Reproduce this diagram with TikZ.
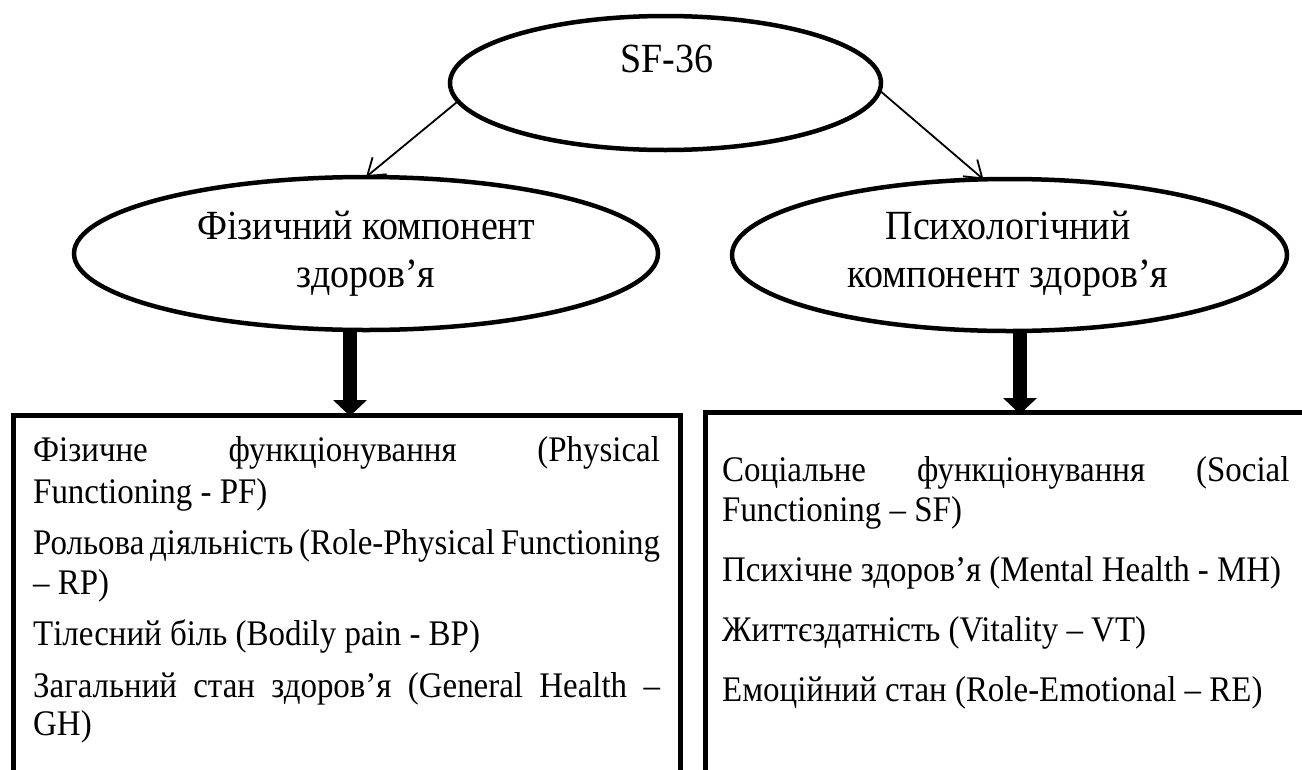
\documentclass[tikz,border=0pt]{standalone}
\usepackage{fontspec}
\usepackage{graphicx}
\setmainfont{Liberation Serif}
\usetikzlibrary{shapes.geometric,arrows.meta}
\newcommand\bodyfont{\fontsize{36}{40}\selectfont}
\newcommand\ellfont{\fontsize{41.5}{48}\selectfont}
\newcommand\sqz[1]{\scalebox{0.915}[1]{#1}}
\begin{document}
\begin{tikzpicture}[x=1pt,y=-1pt,
  ell/.style={ellipse, draw, line width=4.5pt, inner sep=0pt, outer sep=0pt},
  thinarrow/.style={-{Straight Barb[length=16pt,width=22pt,line width=1.8pt]}, line width=1.8pt},
  bigarrow/.style={-{Triangle[length=16pt,width=34pt,line width=0pt]}, line width=14pt},
  box/.style={draw, line width=5pt, inner sep=0pt, outer sep=0pt, anchor=north west},
  txt/.style={anchor=base west, inner sep=0pt, font=\bodyfont},
  etxt/.style={anchor=base, inner sep=0pt, font=\ellfont}]
\useasboundingbox (0,0) rectangle (1302,769);
\clip (0,0) rectangle (1302,769);
\fill[white] (0,0) rectangle (1302,769);

% ellipses
\node[ell, minimum width=431pt, minimum height=134pt] (sf) at (665.5,83) {};
\node[etxt] (sft) at (667,72) {\sqz{SF-36}};
\node[ell, minimum width=584pt, minimum height=153pt] (lf) at (366,253.5) {};
\node[etxt] (lf1) at (366,239) {\sqz{Фізичний компонент}};
\node[etxt] (lf2) at (366,287) {\sqz{здоров’я}};
\node[ell, minimum width=555pt, minimum height=152pt] (rt) at (1009.5,255) {};
\node[etxt] (rt1) at (1008,239) {\sqz{Психологічний}};
\node[etxt] (rt2) at (1008,287) {\sqz{компонент здоров’я}};

% boxes
\node[box, minimum width=666.5pt, minimum height=420pt] (lbox) at (13.5,415) {};
\node[box, minimum width=700pt, minimum height=420pt] (rbox) at (705,412) {};

% connectors
\draw[thinarrow] (sf.185) -- (lf.north);
\draw[thinarrow] (sf.-2) -- (rt.109);
\coordinate (la) at (350,416);
\coordinate (ra) at (1020,414);
\draw[bigarrow] (lf.south -| la) -- (la);
\draw[bigarrow] (rt.south -| ra) -- (ra);

% left box text
\node[txt] (a1) at (33,461) {\sqz{\makebox[685pt][s]{Фізичне функціонування (Physical}}};
\node[txt] (a2) at (33,503) {\sqz{Functioning - PF)}};
\node[txt] (a3) at (33,554) {\sqz{\makebox[685pt][s]{Рольова діяльність (Role-Physical Functioning}}};
\node[txt] (a4) at (33,594) {\sqz{– RP)}};
\node[txt] (a5) at (33,645) {\sqz{Тілесний біль (Bodily pain - BP)}};
\node[txt] (a6) at (33,697) {\sqz{\makebox[685pt][s]{Загальний стан здоров’я (General Health –}}};
\node[txt] (a7) at (33,735) {\sqz{GH)}};

% right box text
\node[txt] (b1) at (722,481) {\sqz{\makebox[620pt][s]{Соціальне функціонування (Social}}};
\node[txt] (b2) at (722,521) {\sqz{Functioning – SF)}};
\node[txt] (b3) at (722,581) {\sqz{Психічне здоров’я (Mental Health - MH)}};
\node[txt] (b4) at (722,641) {\sqz{Життєздатність (Vitality – VT)}};
\node[txt] (b5) at (722,701) {\sqz{Емоційний стан (Role-Emotional – RE)}};
\end{tikzpicture}
\end{document}
